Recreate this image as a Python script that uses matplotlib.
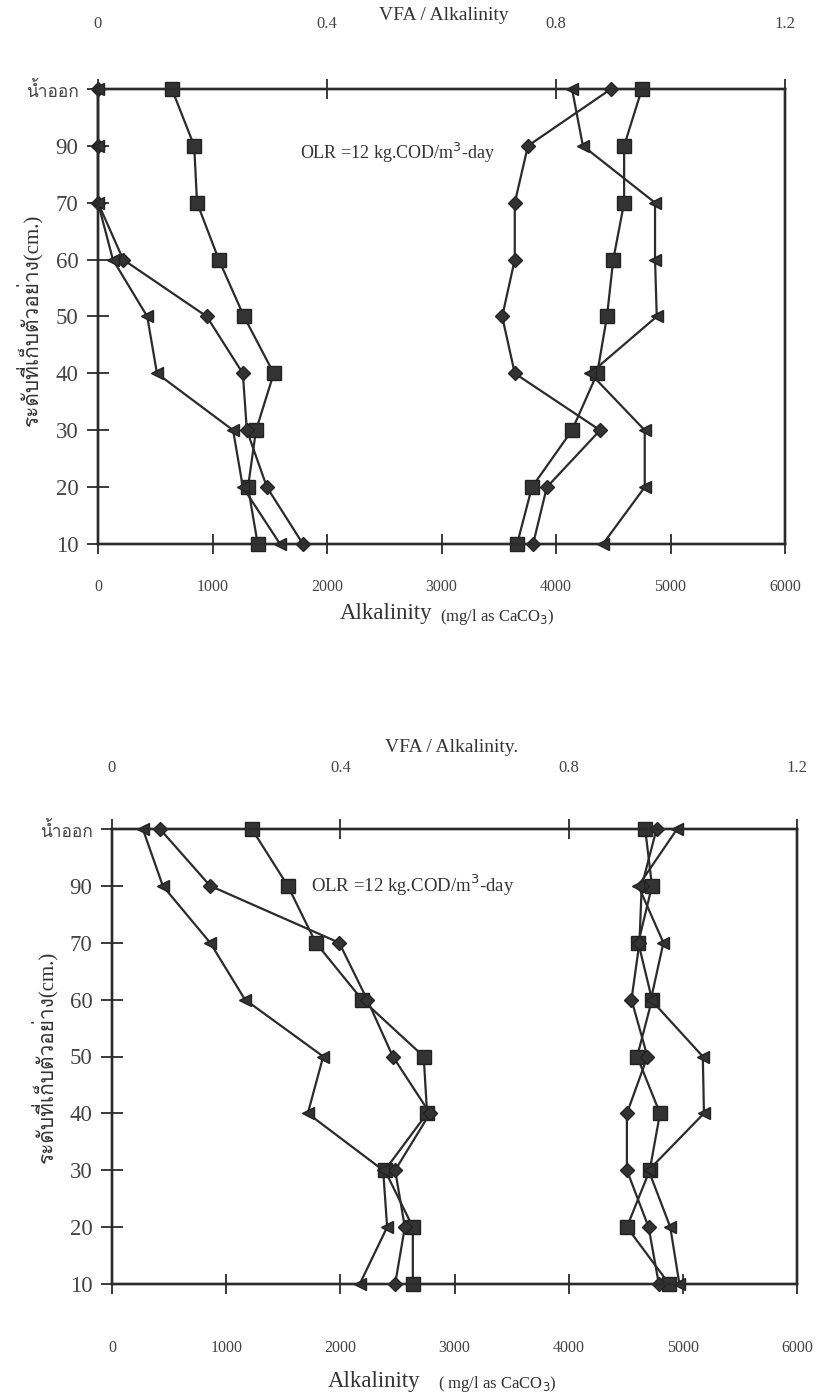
import numpy as np
import matplotlib.pyplot as plt
from matplotlib import font_manager, ft2font

# pick up any installed face that carries Thai letters
thai_family = None
for entry in font_manager.fontManager.ttflist:
    try:
        if 0x0E01 in ft2font.FT2Font(entry.fname).get_charmap():
            thai_family = entry.name
            break
    except Exception:
        continue

families = ['Liberation Serif', 'DejaVu Sans']
if thai_family:
    families.insert(1, thai_family)
plt.rcParams['font.family'] = families

# sampling heights, bottom to top
depth_labels = ['10', '20', '30', '40', '50', '60', '70', '90', 'น้ำออก']

# upper chart: VFA/Alkalinity ratios (top axis)
p1_vfa_sq = [0.279, 0.262, 0.276, 0.307, 0.255, 0.211, 0.173, 0.168, 0.129]
p1_vfa_dm = [0.358, 0.295, 0.260, 0.253, 0.190, 0.044, 0.0, 0.0, 0.0]
p1_vfa_tr = [0.318, 0.253, 0.236, 0.103, 0.086, 0.026, 0.0, 0.0, 0.0]
# upper chart: alkalinity, mg/l as CaCO3 (bottom axis)
p1_alk_sq = [3660, 3790, 4140, 4360, 4445, 4500, 4595, 4595, 4750]
p1_alk_dm = [3800, 3920, 4385, 3640, 3530, 3640, 3640, 3755, 4480]
p1_alk_tr = [4410, 4775, 4775, 4300, 4880, 4865, 4865, 4235, 4140]

# lower chart
p2_vfa_sq = [0.527, 0.527, 0.478, 0.552, 0.546, 0.438, 0.357, 0.308, 0.245]
p2_vfa_dm = [0.496, 0.513, 0.496, 0.557, 0.492, 0.447, 0.398, 0.172, 0.084]
p2_vfa_tr = [0.434, 0.482, 0.475, 0.343, 0.370, 0.233, 0.172, 0.089, 0.054]
p2_alk_sq = [4880, 4510, 4710, 4800, 4600, 4730, 4610, 4730, 4670]
p2_alk_dm = [4790, 4700, 4510, 4510, 4690, 4550, 4620, 4640, 4770]
p2_alk_tr = [4970, 4890, 4700, 5185, 5175, 4720, 4830, 4610, 4950]

alk_ticks = [0, 1000, 2000, 3000, 4000, 5000, 6000]
vfa_ticks = [0, 0.4, 0.8, 1.2]

ink = '#2b2b2b'
W, H = 826, 1398

fig = plt.figure(figsize=(W / 100, H / 100), dpi=100)


def px_rect(left, top, right, bottom):
    return [left / W, 1 - bottom / H, (right - left) / W, (bottom - top) / H]


def draw_panel(rect, vfa_series, alk_series, bottom_pad, top_pad):
    ax = fig.add_axes(rect)
    ax_top = ax.twiny()
    y = np.arange(len(depth_labels))
    styles = [('s', 10), ('D', 7.5), ('<', 9)]
    for vals, (m, ms) in zip(vfa_series, styles):
        ax_top.plot(vals, y, color=ink, lw=1.6, marker=m, ms=ms,
                    mfc='#333333', mec='#222222', clip_on=False)
    for vals, (m, ms) in zip(alk_series, styles):
        ax.plot(vals, y, color=ink, lw=1.6, marker=m, ms=ms,
                mfc='#333333', mec='#222222', clip_on=False)

    ax.set_xlim(0, 6000)
    ax_top.set_xlim(0, 1.2)
    ax.set_ylim(0, len(depth_labels) - 1)

    ax.set_xticks(alk_ticks)
    ax.set_xticklabels([str(t) for t in alk_ticks])
    ax_top.set_xticks(vfa_ticks)
    ax_top.set_xticklabels(['0', '0.4', '0.8', '1.2'])
    ax.set_yticks(y)
    ax.set_yticklabels(depth_labels)

    ax.tick_params(axis='x', direction='inout', length=14, width=1.3,
                   pad=bottom_pad, labelsize=11.5, labelcolor='#444444', color=ink)
    ax_top.tick_params(axis='x', direction='inout', length=14, width=1.3,
                       pad=top_pad, labelsize=12, labelcolor='#444444', color=ink)
    ax.tick_params(axis='y', direction='inout', length=16, width=1.3,
                   pad=6, labelsize=16.5, labelcolor='#444444', color=ink)
    # the Thai outlet label is set smaller than the numbers
    ax.get_yticklabels()[-1].set_fontsize(12.5)

    for a in (ax, ax_top):
        for s in a.spines.values():
            s.set_linewidth(1.7)
            s.set_color(ink)
    return ax


draw_panel(px_rect(98, 89, 785, 544),
           [p1_vfa_sq, p1_vfa_dm, p1_vfa_tr],
           [p1_alk_sq, p1_alk_dm, p1_alk_tr], 18, 34)
draw_panel(px_rect(112, 829, 797, 1284),
           [p2_vfa_sq, p2_vfa_dm, p2_vfa_tr],
           [p2_alk_sq, p2_alk_dm, p2_alk_tr], 33, 31)

txt = dict(color='#333333', ha='center', va='center')

# upper chart labels
fig.text(444 / W, 1 - 15 / H, 'VFA / Alkalinity', fontsize=14, **txt)
fig.text(398 / W, 1 - 153 / H, 'OLR =12 kg.COD/m$^3$-day', fontsize=13, **txt)
fig.text(386 / W, 1 - 614 / H, 'Alkalinity', fontsize=16.5, **txt)
fig.text(497 / W, 1 - 617 / H, '(mg/l as CaCO$_3$)', fontsize=12, **txt)
fig.text(30 / W, 1 - 320 / H, 'ระดับที่เก็บตัวอย่าง(cm.)', fontsize=15,
         rotation=90, **txt)

# lower chart labels
fig.text(452 / W, 1 - 748 / H, 'VFA / Alkalinity.', fontsize=14, **txt)
fig.text(413 / W, 1 - 885 / H, 'OLR =12 kg.COD/m$^3$-day', fontsize=13.5, **txt)
fig.text(374 / W, 1 - 1382 / H, 'Alkalinity', fontsize=16.5, **txt)
fig.text(497 / W, 1 - 1384 / H, '( mg/l as CaCO$_3$)', fontsize=12, **txt)
fig.text(45 / W, 1 - 1057 / H, 'ระดับที่เก็บตัวอย่าง(cm.)', fontsize=15,
         rotation=90, **txt)

fig.savefig('out.png', dpi=100, facecolor='white')
